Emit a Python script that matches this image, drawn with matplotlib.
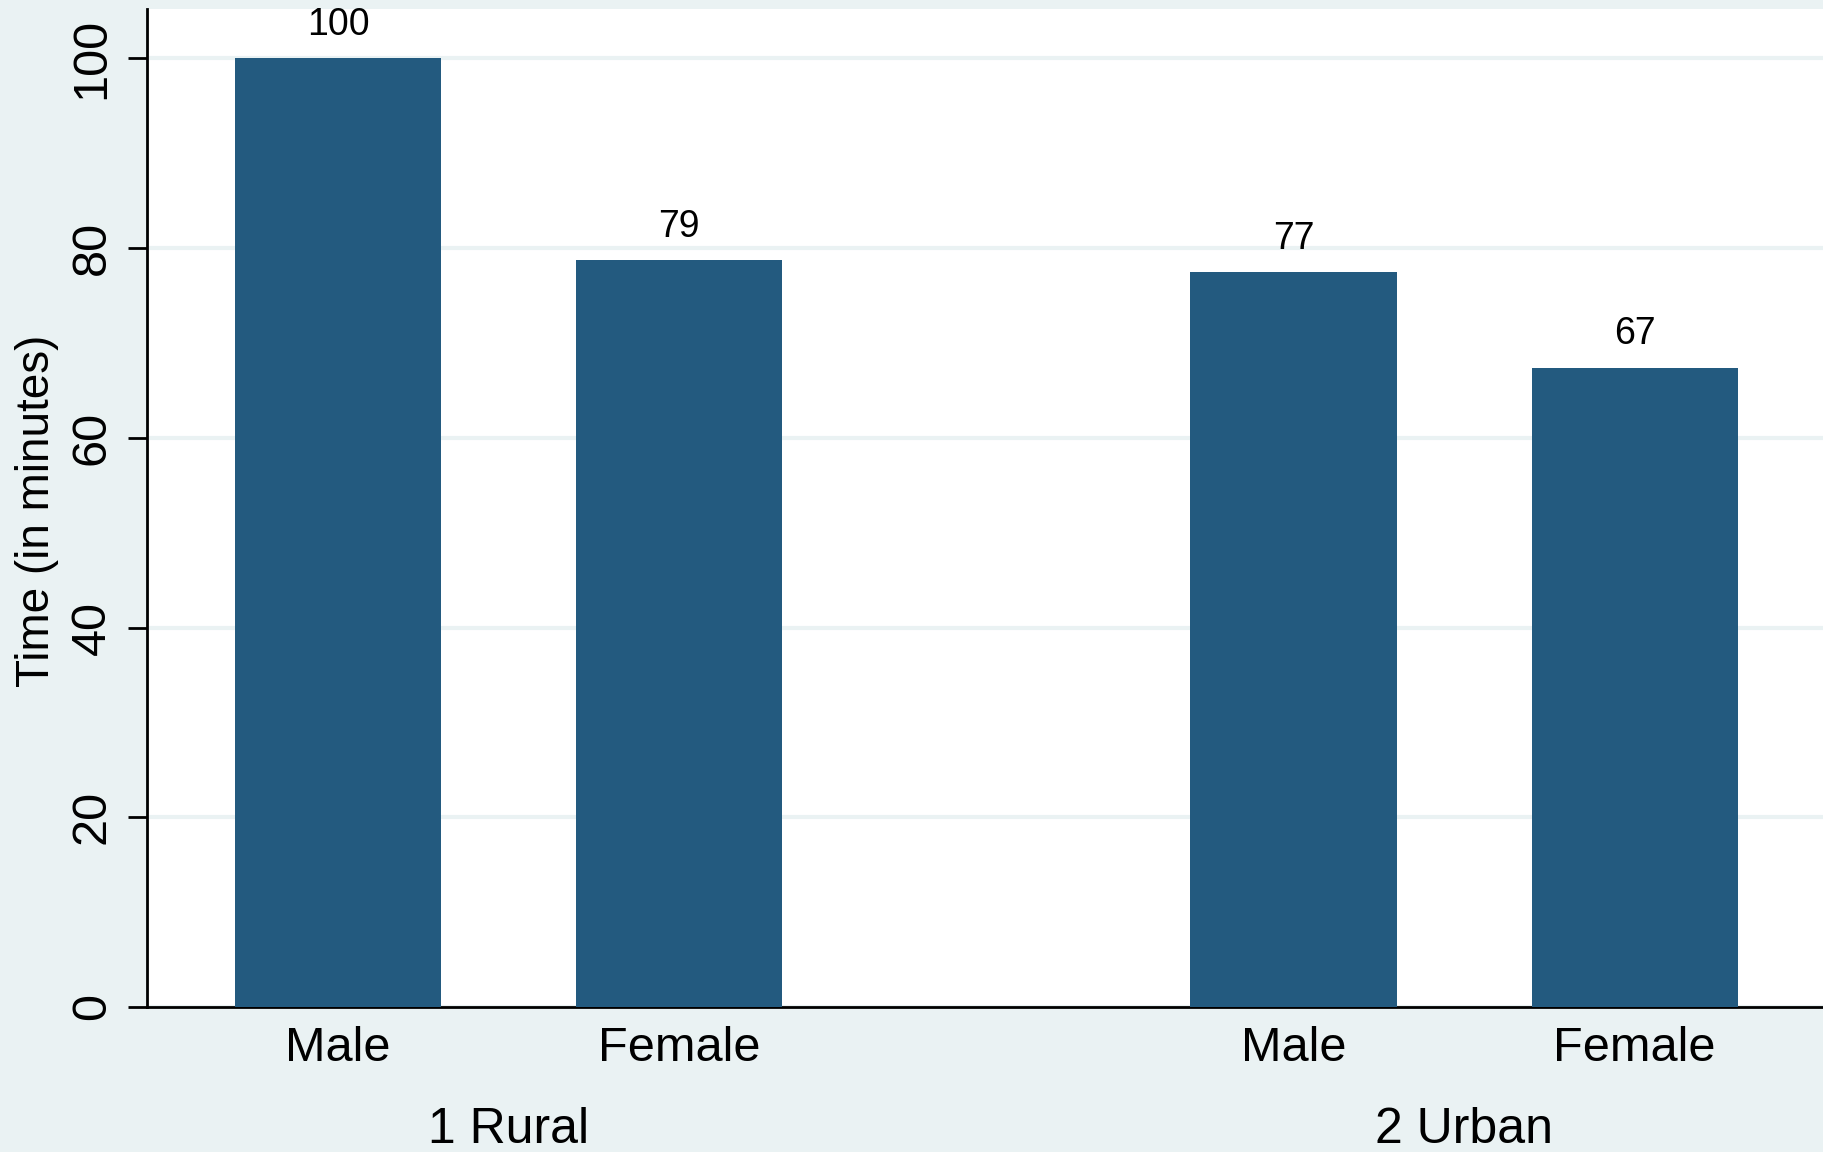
import matplotlib
matplotlib.use("Agg")
import matplotlib.pyplot as plt
import matplotlib.transforms as mtransforms

# Data
groups = ["1 Rural", "2 Urban"]
sexes = ["Male", "Female", "Male", "Female"]
values = [100, 78.7, 77.5, 67.4]
value_labels = ["100", "79", "77", "67"]
y_ticks = [0, 20, 40, 60, 80, 100]

plt.rcParams['font.family'] = ['Liberation Sans', 'DejaVu Sans']

BG = "#EAF2F3"
BAR = "#235A7F"

fig = plt.figure(figsize=(18.24, 11.52), dpi=100, facecolor=BG)
ax = fig.add_axes([146.6 / 1824, 1 - 1007 / 1152, 1 - 146.6 / 1824 + 0.001, (1007 - 9) / 1152])
ax.set_facecolor("white")

positions = [0, 1, 2.8, 3.8]
bars = ax.bar(positions, values, width=0.604, color=BAR, zorder=3)
ax.bar_label(bars, labels=value_labels, padding=11, fontsize=27)

ax.set_xlim(-0.561, 4.36)
ax.set_ylim(0, 105.2)
ax.set_yticks(y_ticks)
ax.set_yticklabels([str(t) for t in y_ticks], rotation=90, va='center', fontsize=35)
ax.set_xticks(positions)
ax.set_xticklabels(sexes, fontsize=35)
ax.tick_params(axis='x', length=0, pad=14)
ax.tick_params(axis='y', length=14, width=2, pad=9)

ax.grid(axis='y', color=BG, linewidth=3, zorder=0)
for s in ["top", "right"]:
    ax.spines[s].set_visible(False)
for s in ["left", "bottom"]:
    ax.spines[s].set_linewidth(2)
    ax.spines[s].set_color("black")

trans = mtransforms.blended_transform_factory(ax.transData, fig.transFigure)
group_centers = [(positions[0] + positions[1]) / 2, (positions[2] + positions[3]) / 2]
for gc, g in zip(group_centers, groups):
    ax.text(gc, 1 - 1130 / 1152, g, transform=trans, ha='center', va='center', fontsize=36, clip_on=False)

fig.text(37 / 1824, 1 - 511 / 1152, "Time (in minutes)", rotation=90, ha='center', va='center', fontsize=33)

fig.savefig("out.png", dpi=100, facecolor=BG)
